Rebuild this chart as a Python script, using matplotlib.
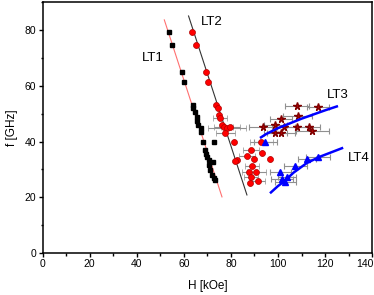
import numpy as np
import matplotlib
import matplotlib.pyplot as plt
from matplotlib.transforms import ScaledTranslation

matplotlib.use('Agg')
plt.rcParams['font.family'] = ['Liberation Sans', 'DejaVu Sans']

# LT1: black squares + red fit line
lt1_h = [53.9, 55.0, 59.4, 60.1, 63.8, 64.1, 64.8, 65.5, 65.8, 66.2, 67.2, 67.5, 68.1, 72.6,
         69.1, 69.5, 69.8, 70.5, 70.8, 71.2, 71.9, 72.6, 73.3, 72.2]
lt1_f = [79.4, 74.7, 65.1, 61.5, 53.0, 51.9, 50.7, 48.9, 47.5, 45.9, 44.7, 43.5, 39.9, 39.9,
         36.9, 35.5, 34.5, 33.3, 31.5, 29.7, 27.9, 26.8, 26.2, 32.5]
lt1_fit_h = [51.7, 76.2]
lt1_fit_f = [83.7, 20.1]

# LT2 and low-field red circles + black fit line
lt2_h = [63.4, 65.1, 69.4, 70.2, 73.7, 74.3, 75.1, 75.4, 76.2, 76.9, 78.3, 79.7, 77.6,
         81.1, 92.9, 88.6, 93.2, 96.4, 86.8, 89.6, 82.5, 88.9, 87.5, 90.8, 88.6, 91.5, 87.9, 81.8]
lt2_f = [79.3, 74.7, 65.1, 61.5, 53.1, 51.9, 49.5, 48.3, 45.9, 45.3, 44.7, 45.3, 43.2,
         39.9, 39.9, 36.9, 35.8, 33.7, 34.8, 33.6, 33.3, 31.2, 29.1, 29.1, 27.1, 25.9, 25.2, 33.0]
lt2_err = [0, 0, 0, 0, 0, 0, 0, 3, 0, 4, 8, 4, 4,
           0, 5, 3.5, 0, 0, 3.5, 0, 0, 3, 3, 4, 3, 3, 0, 0]
lt2_fit_h = [62.0, 86.8]
lt2_fit_f = [85.1, 20.8]

# LT3: stars + blue curve
lt3_h = [108.1, 117.0, 108.3, 101.3, 98.9, 93.6, 102.4, 108.1, 113.0, 114.5, 98.9, 101.4]
lt3_f = [52.8, 52.3, 49.2, 48.1, 45.9, 45.1, 45.3, 45.1, 45.1, 43.9, 42.9, 42.9]
lt3_err = [5, 4.5, 6, 4.5, 5, 6, 5, 5, 5, 7, 5, 6]
lt3_tri_h = [94.6]
lt3_tri_f = [39.9]
lt3_tri_err = [5]
lt3_fit_h = [92.8, 95, 100, 105, 110, 115, 120, 125]
lt3_fit_f = [41.5, 42.7, 44.8, 46.5, 48.2, 49.7, 51.2, 52.6]

# LT4: triangles + blue curve
lt4_h = [101.0, 103.1, 107.4, 112.3, 116.9, 101.7, 103.8]
lt4_f = [29.1, 25.5, 31.2, 33.6, 34.5, 26.4, 27.1]
lt4_err = [4.5, 4.5, 5, 4, 5, 4.5, 4]
lt4_fit_h = [97.0, 100, 102.4, 106.6, 112.3, 118.0, 127.2]
lt4_fit_f = [21.7, 24.0, 25.5, 28.8, 32.3, 34.6, 37.6]

labels = ['LT1', 'LT2', 'LT3', 'LT4']
label_h = [46.9, 71.9, 125.5, 134.2]
label_f = [69.9, 83.1, 56.7, 34.0]

fig = plt.figure(figsize=(3.74, 2.95), dpi=100)
ax = fig.add_axes([0.114, 0.143, 0.881, 0.849])

gray = '#909090'
ax.plot(lt1_fit_h, lt1_fit_f, color='#ff7070', lw=0.8, zorder=2)
ax.plot(lt2_fit_h, lt2_fit_f, color='#333333', lw=0.8, zorder=2)

ax.errorbar(lt3_h, lt3_f, xerr=lt3_err, fmt='*', color='#c00000', mec='#800000', ms=5.5,
            ecolor=gray, elinewidth=0.8, capsize=2, capthick=0.8, zorder=3)
ax.errorbar(lt2_h, lt2_f, xerr=lt2_err, fmt='o', color='#ff0000', mec='#b00000', ms=4.3, mew=0.5,
            ecolor=gray, elinewidth=0.8, capsize=2, capthick=0.8, zorder=3)
ax.errorbar(lt4_h, lt4_f, xerr=lt4_err, fmt='^', color='#0000ff', ms=4.3,
            ecolor=gray, elinewidth=0.8, capsize=2, capthick=0.8, zorder=3)
ax.errorbar(lt3_tri_h, lt3_tri_f, xerr=lt3_tri_err, fmt='^', color='#0000ff', ms=4.3,
            ecolor=gray, elinewidth=0.8, capsize=2, capthick=0.8, zorder=3)
ax.plot(lt1_h, lt1_f, 's', color='black', ms=3.5, zorder=4)

ax.plot(lt3_fit_h, lt3_fit_f, color='#0000ff', lw=1.8, zorder=5)
ax.plot(lt4_fit_h, lt4_fit_f, color='#0000ff', lw=1.8, zorder=5)

for t, h, f in zip(labels, label_h, label_f):
    ax.text(h, f, t, fontsize=9.5, ha='center', va='center')

ax.set_xlim(0, 140)
ax.set_ylim(0, 90)
ax.set_xticks(np.arange(0, 141, 20))
ax.set_xticks(np.arange(0, 141, 10), minor=True)
ax.set_yticks(np.arange(0, 81, 20))
ax.set_yticks(np.arange(0, 91, 10), minor=True)
ax.tick_params(which='major', direction='out', length=3, width=1, labelsize=7.5, pad=1.5)
ax.tick_params(which='minor', direction='out', length=1.8, width=1)
for s in ax.spines.values():
    s.set_linewidth(1.1)

# keep the last x tick label inside the figure
last = ax.get_xticklabels()[-1]
last.set_transform(last.get_transform() + ScaledTranslation(-5 / 72, 0, fig.dpi_scale_trans))

ax.set_xlabel('H [kOe]', fontsize=8.5, labelpad=8)
ax.set_ylabel('f [GHz]', fontsize=8.5, labelpad=5)

fig.savefig('out.png', dpi=100)
